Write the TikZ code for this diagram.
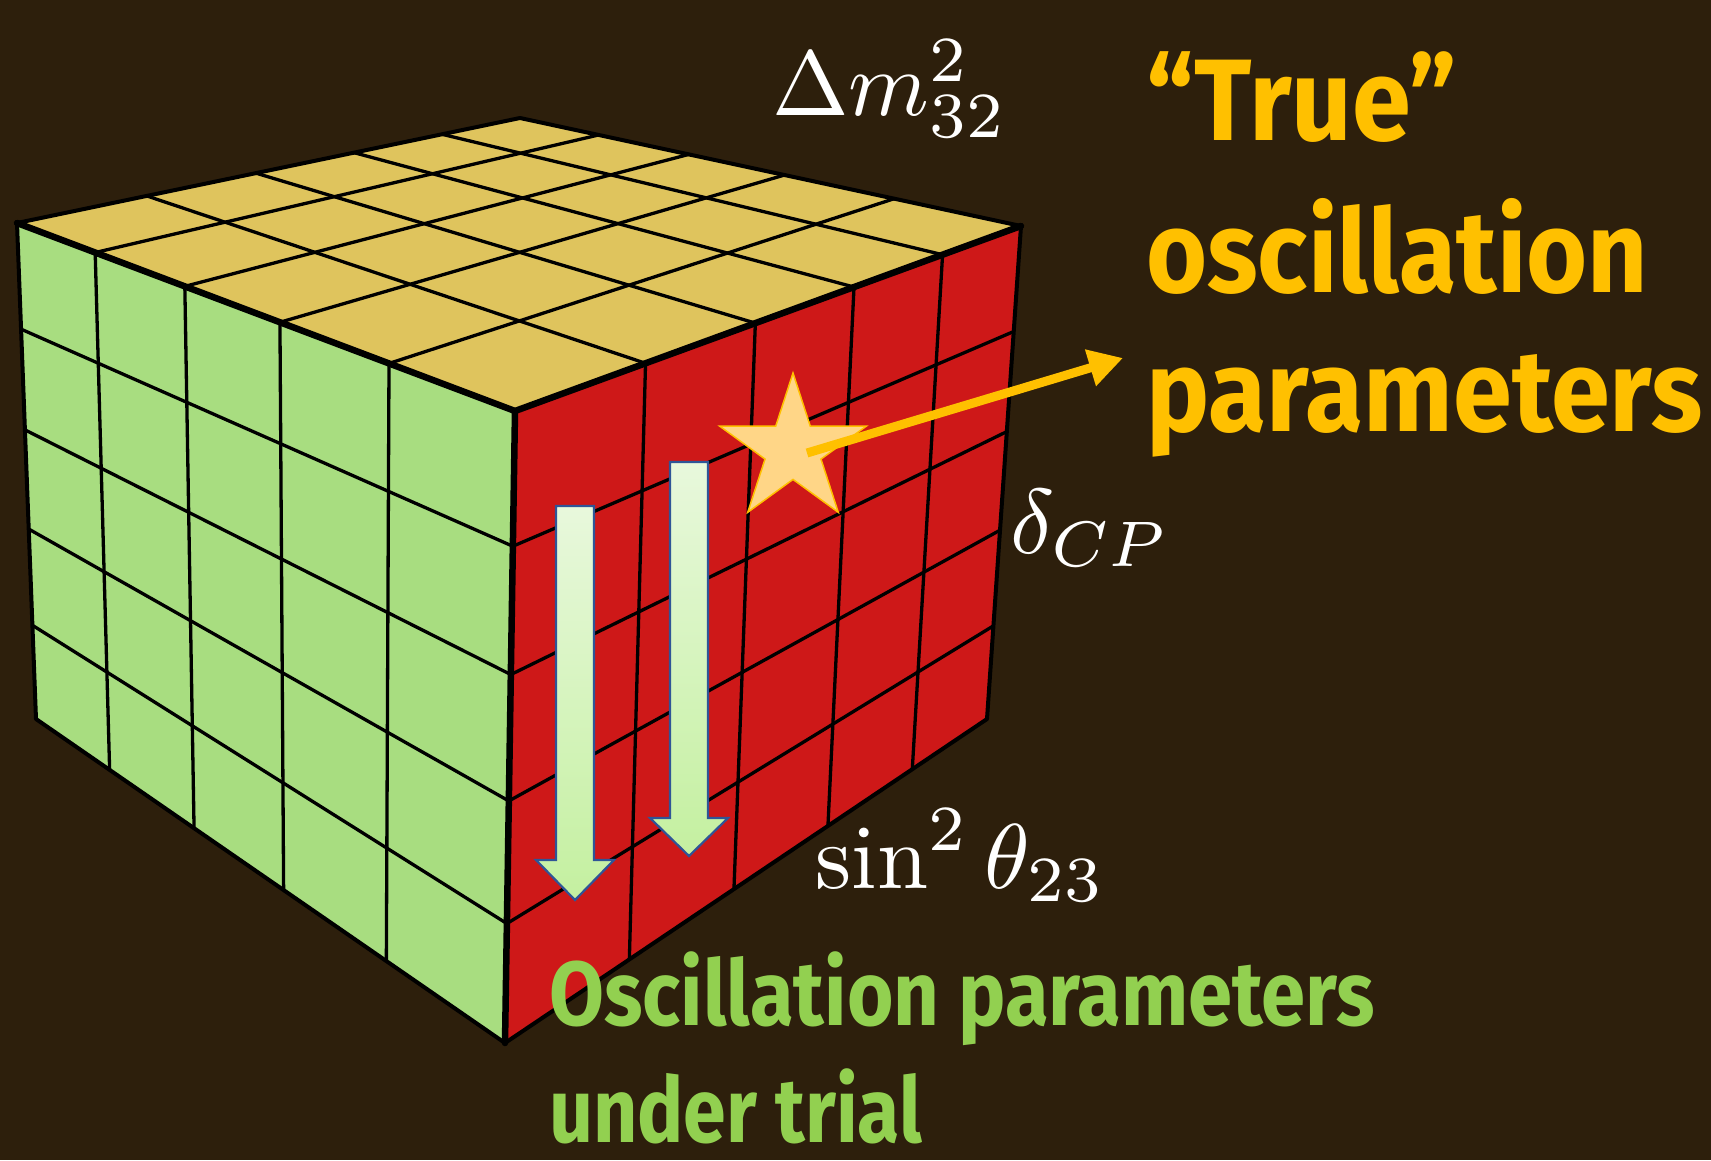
\documentclass[tikz,border=0pt]{standalone}
\usepackage{fontspec}
\usepackage{graphicx}
\usetikzlibrary{calc,arrows.meta,shapes.geometric}
\newfontfamily\headfont{Fira Sans}
\definecolor{bgc}{RGB}{45,31,12}
\definecolor{topc}{RGB}{223,196,93}
\definecolor{leftc}{RGB}{168,221,128}
\definecolor{rightc}{RGB}{206,24,24}
\definecolor{orangec}{RGB}{255,192,0}
\definecolor{greenc}{RGB}{146,208,80}
\definecolor{starfill}{RGB}{255,214,135}
\definecolor{arrtop}{RGB}{232,248,220}
\definecolor{arrbot}{RGB}{196,240,160}
\definecolor{arrline}{RGB}{47,85,151}
\tikzset{
  gridline/.style={line width=3.3pt, black, line cap=round},
  frontedge/.style={line width=6.5pt, black, line cap=round, line join=round},
  backedge/.style={line width=4pt, black, line cap=round, line join=round},
  downarrow/.style={draw=arrline, line width=2.2pt, top color=arrtop, bottom color=arrbot},
  mathlab/.style={text=white, inner sep=0pt, anchor=base west},
  orangelab/.style={text=orangec, inner sep=0pt, anchor=base west, font=\headfont\bfseries\fontsize{116}{116}\selectfont},
  greenlab/.style={text=greenc, inner sep=0pt, anchor=base west, font=\headfont\bfseries\fontsize{91}{91}\selectfont},
}
\begin{document}
\begin{tikzpicture}[x=1pt,y=-1pt]
\useasboundingbox (0,0) rectangle (1711,1160);
\fill[bgc] (0,0) rectangle (1711,1160);
% cube corners
\coordinate (L) at (17,223);
\coordinate (Bk) at (520,118);
\coordinate (R) at (1021,226);
\coordinate (F) at (515,411);
\coordinate (BL) at (36,719);
\coordinate (FB) at (505,1043);
\coordinate (RB) at (987,719);
% faces
\fill[topc] (L) -- (Bk) -- (R) -- (F) -- cycle;
\fill[leftc] (L) -- (F) -- (FB) -- (BL) -- cycle;
\fill[rightc] (F) -- (R) -- (RB) -- (FB) -- cycle;
% top face grid
\foreach \t in {0.157,0.337,0.528,0.747}
  \draw[gridline] ($(L)!\t!(F)$) -- ($(Bk)!\t!(R)$);
\foreach \t in {0.258,0.475,0.670,0.845}
  \draw[gridline] ($(L)!\t!(Bk)$) -- ($(F)!\t!(R)$);
% left face grid
\foreach \t in {0.157,0.337,0.528,0.747}
  \draw[gridline] ($(L)!\t!(F)$) -- ($(BL)!\t!(FB)$);
\foreach \t in {0.214,0.417,0.617,0.811}
  \draw[gridline] ($(L)!\t!(BL)$) -- ($(F)!\t!(FB)$);
% right face grid
\foreach \t in {0.258,0.475,0.670,0.845}
  \draw[gridline] ($(F)!\t!(R)$) -- ($(FB)!\t!(RB)$);
\foreach \t in {0.214,0.417,0.617,0.811}
  \draw[gridline] ($(F)!\t!(FB)$) -- ($(R)!\t!(RB)$);
% outline
\draw[backedge] (L) -- (Bk) -- (R) -- (RB) -- (FB) -- (BL) -- cycle;
\draw[frontedge] (L) -- (F) -- (R);
\draw[frontedge] (F) -- (FB);
% down arrows
\path[downarrow] (556,506) -- (556,860) -- (536,860) -- (575,900) -- (614,860) -- (594,860) -- (594,506) -- cycle;
\path[downarrow] (670,462) -- (670,818) -- (650,818) -- (689,856) -- (728,818) -- (708,818) -- (708,462) -- cycle;
% star and arrow
\node[star, star points=5, star point ratio=2.618, minimum size=154pt, inner sep=0pt,
      fill=starfill, draw=orangec, line width=1.5pt] (star) at (793,450) {};
\coordinate (astart) at (807,453);
\coordinate (atip) at (1123,358);
\draw[orangec, line width=9pt, -{Triangle[length=34pt,width=36pt]}] (astart) -- (atip);
% math labels
\node[mathlab] (dm) at (772,115) {\scalebox{9.2}{$\Delta m^2_{32}$}};
\node[mathlab] (dcp) at (1010,553) {\scalebox{9.2}{$\delta_{CP}$}};
\node[mathlab] (th) at (815,888) {\scalebox{9.2}{$\sin^2\theta_{23}$}};
% orange text
\node[orangelab] (true) at (1146,140) {\resizebox{311pt}{\height}{“True”}};
\node[orangelab] (osc) at (1146,292) {\resizebox{502pt}{\height}{oscillation}};
\node[orangelab] (par) at (1146,431) {\resizebox{556pt}{\height}{parameters}};
% green text
\node[greenlab] (g1) at (549,1025) {\resizebox{826pt}{\height}{Oscillation parameters}};
\node[greenlab] (g2) at (549,1142) {\resizebox{373pt}{\height}{under trial}};
\end{tikzpicture}
\end{document}
